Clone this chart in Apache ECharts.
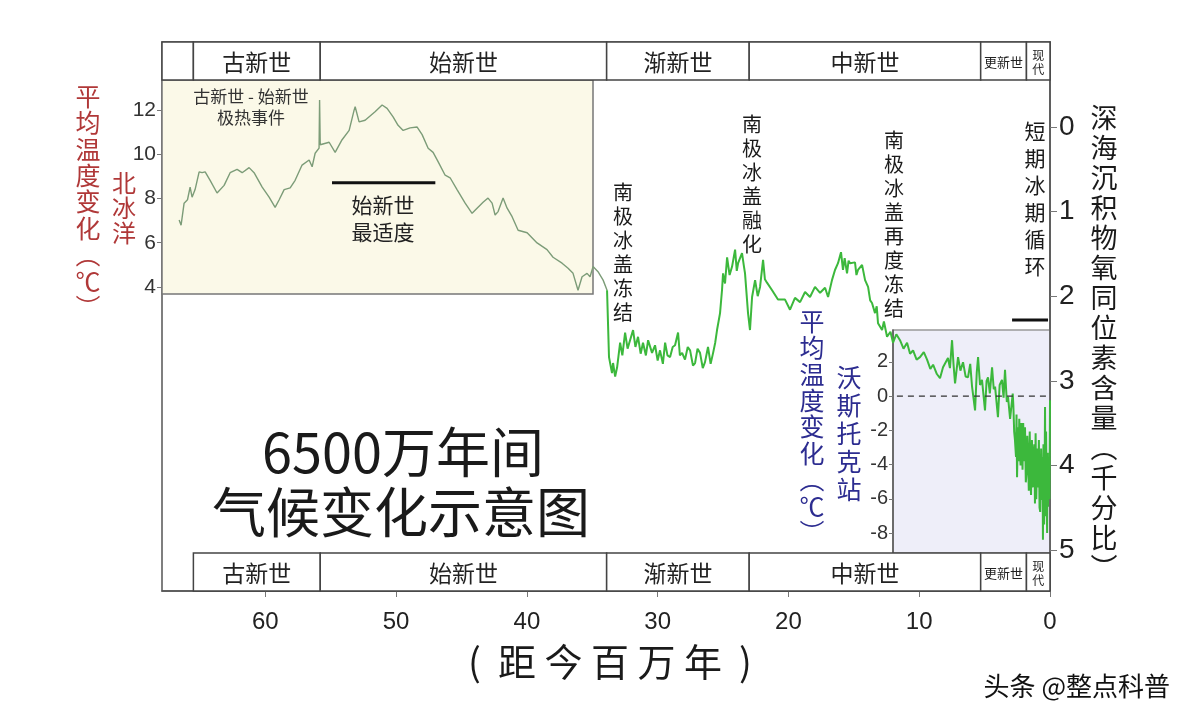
<!DOCTYPE html>
<html>
<head>
<meta charset="utf-8">
<title>6500万年间气候变化示意图</title>
<script src="https://cdn.jsdelivr.net/npm/echarts@6/dist/echarts.min.js"></script>
<style>
  html, body { margin: 0; padding: 0; background: #fff; }
  #chart { width: 1191px; height: 720px; }
</style>
</head>
<body>
<div id="chart"></div>
<script>
const FONT = '"Noto Sans CJK SC", "Noto Sans", sans-serif'
const NUM_FONT = '"Liberation Sans", Arial, sans-serif'

// 距今年代（百万年）
const ages = [
  66.59, 66.44, 66.21, 65.95, 65.75, 65.60, 65.37, 65.06, 64.83, 64.60, 64.22, 63.69, 63.15, 62.69,
  62.16, 61.77, 61.24, 60.86, 60.24, 59.71, 59.25, 58.94, 58.56, 58.10, 57.72, 57.19, 56.65, 56.42,
  56.19, 55.89, 55.85, 55.80, 55.66, 55.12, 54.66, 54.13, 53.59, 53.21, 53.13, 52.83, 52.37, 51.61,
  51.07, 50.69, 50.23, 49.85, 49.46, 48.93, 48.39, 48.01, 47.55, 47.17, 46.79, 46.25, 45.87, 45.34,
  44.72, 44.19, 43.81, 43.35, 42.97, 42.66, 42.43, 42.20, 41.82, 41.51, 41.13, 40.67, 39.98, 39.22,
  38.46, 38.00, 37.31, 36.85, 36.47, 36.09, 35.78, 35.40, 35.17, 34.94, 34.56, 34.17, 33.87,
  33.72, 33.49, 33.41, 33.25, 33.10, 32.87, 32.70, 32.49, 32.30, 32.11, 31.88, 31.70, 31.50, 31.30,
  31.12, 30.90, 30.73, 30.43, 30.20, 30.00, 29.82, 29.60, 29.43, 29.25, 29.05, 28.85, 28.67, 28.44,
  28.30, 28.13, 27.91, 27.70, 27.52, 27.30, 27.14, 26.95, 26.76, 26.55, 26.38, 26.15, 25.95, 25.76,
  25.60, 25.46, 25.23, 25.08, 25.00, 24.85, 24.69, 24.50, 24.31, 24.08, 23.95, 23.85, 23.55, 23.40,
  23.32, 23.09, 22.94, 22.78, 22.55, 22.35, 22.17, 21.94, 21.80, 21.64, 21.25, 20.80, 20.26, 19.88,
  19.50, 19.11, 18.73, 18.35, 17.97, 17.58, 17.20, 16.97, 16.67, 16.44, 16.21, 15.98, 15.83, 15.70,
  15.52, 15.40, 15.29, 14.91, 14.80, 14.68, 14.37, 14.14, 13.91, 13.75, 13.61, 13.38, 13.25, 13.15,
  12.84, 12.70, 12.46, 12.20, 12.00, 11.75, 11.47, 11.20, 10.93, 10.70, 10.47, 10.20, 9.94, 9.65,
  9.40, 9.15, 8.94, 8.65, 8.41, 8.18, 7.80, 7.65, 7.49, 7.38, 7.26, 7.03, 6.85, 6.65,
  6.45, 6.27, 6.10, 5.96, 5.73, 5.60, 5.50, 5.35, 5.20, 4.97, 4.85, 4.74, 4.60, 4.43,
  4.30, 4.20, 3.98, 3.85, 3.67, 3.55, 3.44, 3.30, 3.21, 3.05, 2.91, 2.85, 2.80, 2.74,
  2.68, 2.60, 2.56, 2.52, 2.45, 2.40, 2.35, 2.30, 2.25, 2.20, 2.14, 2.10, 2.05, 1.98,
  1.91, 1.85, 1.80, 1.74, 1.68, 1.62, 1.55, 1.50, 1.45, 1.38, 1.32, 1.25, 1.20, 1.15,
  1.10, 1.05, 0.98, 0.92, 0.85, 0.80, 0.75, 0.68, 0.61, 0.57, 0.54, 0.50, 0.45, 0.41,
  0.38, 0.34, 0.30, 0.26, 0.22, 0.18, 0.15, 0.11, 0.08, 0.04, 0.00
]

// 深海沉积物氧同位素含量（千分比）
const d18o = [
  1.10, 1.16, 0.90, 0.86, 0.71, 0.83, 0.74, 0.53, 0.54, 0.53, 0.63, 0.78, 0.69, 0.54,
  0.50, 0.54, 0.48, 0.54, 0.71, 0.83, 0.95, 0.86, 0.74, 0.72, 0.63, 0.45, 0.39, 0.47,
  0.31, 0.25, -0.32, 0.21, 0.21, 0.18, 0.30, 0.15, 0.04, -0.20, -0.24, -0.06, -0.08, -0.18,
  -0.26, -0.22, -0.12, -0.02, 0.04, 0.01, 0.00, 0.09, 0.25, 0.30, 0.41, 0.57, 0.60, 0.74,
  0.90, 1.02, 0.96, 0.89, 0.84, 0.90, 1.04, 1.00, 0.84, 0.96, 1.06, 1.22, 1.25, 1.37,
  1.45, 1.54, 1.61, 1.67, 1.73, 1.93, 1.77, 1.73, 1.77, 1.65, 1.71, 1.81, 1.93,
  2.72, 2.91, 2.79, 2.95, 2.84, 2.55, 2.70, 2.43, 2.62, 2.52, 2.40, 2.60, 2.48, 2.68,
  2.55, 2.70, 2.52, 2.67, 2.58, 2.76, 2.64, 2.80, 2.55, 2.70, 2.72, 2.60, 2.58, 2.43,
  2.70, 2.67, 2.75, 2.60, 2.64, 2.82, 2.79, 2.62, 2.67, 2.85, 2.78, 2.60, 2.80, 2.67,
  2.55, 2.40, 2.20, 1.93, 1.73, 1.85, 1.54, 1.75, 1.65, 1.45, 1.70, 1.61, 1.49, 1.65,
  1.73, 2.20, 2.40, 2.01, 1.81, 2.00, 1.89, 1.57, 1.80, 1.84, 1.93, 2.04, 2.04, 2.16,
  2.02, 2.07, 1.95, 2.01, 1.89, 1.96, 1.90, 2.01, 1.81, 1.69, 1.61, 1.48, 1.69, 1.55,
  1.73, 1.58, 1.61, 1.60, 1.75, 1.69, 1.63, 1.81, 1.89, 2.05, 2.08, 2.20, 2.12, 2.32,
  2.40, 2.30, 2.48, 2.42, 2.55, 2.45, 2.52, 2.62, 2.55, 2.68, 2.64, 2.75, 2.72, 2.66,
  2.75, 2.86, 2.81, 2.92, 2.97, 2.84, 2.73, 2.85, 2.52, 2.80, 3.03, 2.72, 2.88, 2.78,
  2.95, 2.96, 2.80, 3.07, 3.35, 2.90, 2.72, 3.05, 2.99, 3.35, 3.00, 2.96, 3.15, 2.84,
  3.10, 3.07, 3.43, 3.05, 2.99, 3.20, 2.87, 3.25, 3.19, 3.45, 3.46, 3.15, 3.30, 3.60,
  3.70, 3.90, 3.40, 4.14, 3.55, 3.95, 3.45, 3.85, 4.00, 3.50, 3.78, 4.05, 3.50, 3.95,
  3.55, 4.20, 4.10, 3.65, 3.90, 4.30, 3.60, 4.15, 4.35, 3.70, 4.26, 3.85, 3.75, 4.45,
  3.62, 4.40, 3.80, 4.26, 3.70, 4.50, 4.55, 3.80, 4.41, 3.90, 4.88, 3.75, 4.70, 4.05,
  3.31, 4.60, 3.60, 4.25, 4.80, 3.85, 4.49, 4.05, 3.90, 4.40, 3.23
]

const ageTicks = [0, 10, 20, 30, 40, 50, 60]
const d18oTicks = [0, 1, 2, 3, 4, 5]
const arcticTicks = [4, 6, 8, 10, 12]
const vostokTicks = [2, 0, -2, -4, -6, -8]

// 地质年代分期
const epochNames = ['', '古新世', '始新世', '渐新世', '中新世', '更新世', '现代']
const epochStart = [67.9, 65.5, 55.8, 33.9, 23.0, 5.3, 1.8]
const epochEnd = [65.5, 55.8, 33.9, 23.0, 5.3, 1.8, 0]

// 标注横线
const optimumBar = [[54.9, 0.66], [47.0, 0.66]]
const glacialBar = [[2.9, 2.28], [0.15, 2.28]]
const vostokZero = [[11.7, 0], [0, 0]]

const splitAt = ages.findIndex(a => a < 33.87)
const curve = ages.map((a, i) => [a, d18o[i]])
const earlyCurve = curve.slice(0, splitAt)
const lateCurve = curve.slice(splitAt - 1)

const vert = s => Array.from(s).join('\n')

function renderEpoch(params, api) {
  const cs = params.coordSys
  const x0 = api.coord([api.value(0), 0])[0]
  const x1 = api.coord([api.value(1), 0])[0]
  const name = epochNames[params.dataIndex]
  const h = 38
  const rows = name ? [cs.y, cs.y + cs.height - h] : [cs.y]
  const children = []
  rows.forEach(y => {
    children.push({
      type: 'rect',
      shape: { x: x0, y: y, width: x1 - x0, height: h },
      style: { fill: '#fff', stroke: '#444', lineWidth: 1.5 }
    })
    if (!name) return
    let size = 23
    let text = name
    if (name === '更新世') size = 13
    if (name === '现代') { size = 12; text = vert(name) }
    children.push({
      type: 'text',
      style: {
        text: text, x: (x0 + x1) / 2, y: y + h / 2 + 1,
        align: 'center', verticalAlign: 'middle',
        fontSize: size, lineHeight: size + 2, fontFamily: FONT, fill: '#222'
      }
    })
  })
  return { type: 'group', children: children }
}

function label(text, x, y, size, color, opts) {
  return {
    type: 'text', z: 100,
    style: Object.assign({
      text: text, x: x, y: y, fontSize: size, fill: color, fontFamily: FONT,
      align: 'center', verticalAlign: 'middle'
    }, opts || {})
  }
}

function column(text, x, top, size, lh, color) {
  return label(vert(text), x, top, size, color, { verticalAlign: 'top', lineHeight: lh })
}

const chart = echarts.init(document.getElementById('chart'))
chart.setOption({
  backgroundColor: '#ffffff',
  animation: false,
  grid: [
    { left: 162, top: 42, width: 888, height: 549, show: true, borderColor: '#555', borderWidth: 1.5 },
    { left: 162, top: 80, width: 431, height: 214, show: true, backgroundColor: '#fbf9e8', borderColor: '#777', borderWidth: 1.5 },
    { left: 893, top: 330, width: 157, height: 223, show: true, backgroundColor: '#eeeef9', borderColor: '#999', borderWidth: 1.5 }
  ],
  xAxis: [
    {
      gridIndex: 0, type: 'value', min: 0, max: 67.9, inverse: true, position: 'bottom',
      axisLine: { onZero: false, lineStyle: { color: '#555', width: 1.5 } },
      axisTick: { customValues: ageTicks, length: 6, lineStyle: { color: '#777' } },
      axisLabel: { customValues: ageTicks, fontSize: 24, color: '#222', margin: 19, fontFamily: NUM_FONT },
      splitLine: { show: false }
    },
    { gridIndex: 1, type: 'value', min: 0, max: 1, show: false },
    { gridIndex: 2, type: 'value', min: 0, max: 12.0, inverse: true, show: false }
  ],
  yAxis: [
    {
      gridIndex: 0, type: 'value', position: 'right', inverse: true, min: -1.005, max: 5.485,
      axisLine: { show: true, onZero: false, lineStyle: { color: '#555', width: 1.5 } },
      axisTick: { show: true, customValues: d18oTicks, length: 7, lineStyle: { color: '#777' } },
      axisLabel: { customValues: d18oTicks, fontSize: 28, color: '#222', margin: 9, fontFamily: NUM_FONT },
      splitLine: { show: false }
    },
    {
      gridIndex: 1, type: 'value', position: 'left', min: 3.68, max: 13.36,
      axisLine: { show: false, onZero: false },
      axisTick: { show: true, customValues: arcticTicks, length: 5, lineStyle: { color: '#777' } },
      axisLabel: { customValues: arcticTicks, fontSize: 21, color: '#333', margin: 6, fontFamily: NUM_FONT },
      splitLine: { show: false }
    },
    {
      gridIndex: 2, type: 'value', position: 'left', min: -9.17, max: 3.87,
      axisLine: { show: true, onZero: false, lineStyle: { color: '#555', width: 1.5 } },
      axisTick: { show: true, customValues: vostokTicks, length: 4, lineStyle: { color: '#777' } },
      axisLabel: { customValues: vostokTicks, fontSize: 20, color: '#333', margin: 5, fontFamily: NUM_FONT },
      splitLine: { show: false }
    }
  ],
  series: [
    {
      type: 'custom', xAxisIndex: 0, yAxisIndex: 0, clip: false, silent: true,
      renderItem: renderEpoch,
      data: epochStart.map((s, i) => [s, epochEnd[i]])
    },
    {
      type: 'line', xAxisIndex: 0, yAxisIndex: 0, data: earlyCurve, showSymbol: false,
      lineStyle: { color: '#7c9c78', width: 1.4 }, z: 3
    },
    {
      type: 'line', xAxisIndex: 0, yAxisIndex: 0, data: lateCurve, showSymbol: false,
      lineStyle: { color: '#3cb83c', width: 2 }, z: 3
    },
    {
      type: 'line', xAxisIndex: 2, yAxisIndex: 2, data: vostokZero, showSymbol: false,
      lineStyle: { color: '#333', width: 1.2, type: [6, 5] }, z: 4
    },
    {
      type: 'line', xAxisIndex: 0, yAxisIndex: 0, data: optimumBar, showSymbol: false,
      lineStyle: { color: '#111', width: 3 }, z: 4
    },
    {
      type: 'line', xAxisIndex: 0, yAxisIndex: 0, data: glacialBar, showSymbol: false,
      lineStyle: { color: '#111', width: 3 }, z: 4
    }
  ],
  graphic: [
    column('平均温度变化︵℃︶', 88, 83, 25, 26.4, '#b03838'),
    column('北冰洋', 124, 170, 24, 25, '#b03838'),
    column('平均温度变化︵℃︶', 812, 308, 25, 26.4, '#2c2c90'),
    column('沃斯托克站', 849, 363, 25, 28, '#2c2c90'),
    column('南极冰盖冻结', 623, 180, 20, 24, '#1a1a1a'),
    column('南极冰盖融化', 752, 112, 20, 24, '#1a1a1a'),
    column('南极冰盖再度冻结', 894, 128, 20, 24, '#1a1a1a'),
    column('短期冰期循环', 1035, 118, 21, 27, '#1a1a1a'),
    column('深海沉积物氧同位素含量︵千分比︶', 1104, 103, 27, 30, '#1a1a1a'),
    label('古新世 - 始新世', 251, 97, 17, '#333'),
    label('极热事件', 251, 118, 17, '#333'),
    label('始新世', 383, 205, 21, '#222'),
    label('最适度', 383, 232, 21, '#222'),
    label('6500万年间', 403, 452, 54, '#1a1a1a'),
    label('气候变化示意图', 401, 512, 54, '#1a1a1a'),
    label('(  距 今 百 万 年  )', 610, 662, 38, '#1a1a1a'),
    label('头条 @整点科普', 1170, 686, 26, '#111', { align: 'right' })
  ]
})
</script>
</body>
</html>
